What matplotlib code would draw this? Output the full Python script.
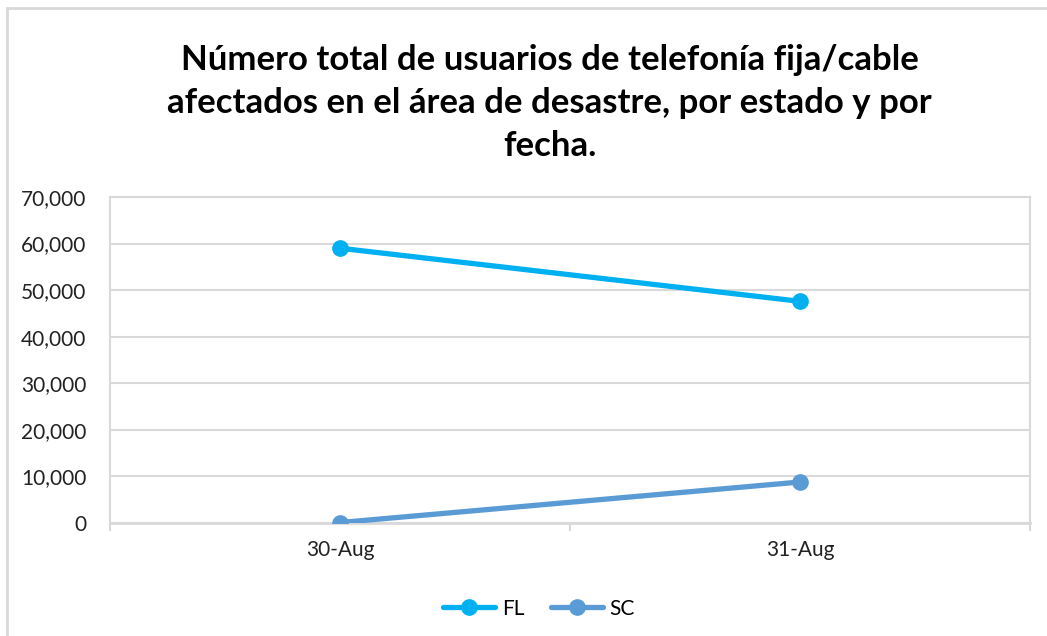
import matplotlib.pyplot as plt
import matplotlib.patches as mpatches
from matplotlib.ticker import FuncFormatter, FixedLocator

# data
dates = ["30-Aug", "31-Aug"]
fl_users = [59000, 47600]
sc_users = [100, 8800]

title = ("Número total de usuarios de telefonía fija/cable\n"
         "afectados en el área de desastre, por estado y por\n"
         "fecha.")

plt.rcParams['font.family'] = ['Lato', 'DejaVu Sans']

fig = plt.figure(figsize=(10.47, 6.36), dpi=100)
ax = fig.add_axes([110 / 1047, 113 / 636, 920 / 1047, 326 / 636])

grid_col = "#D9D9D9"
x = list(range(len(dates)))
ax.plot(x, fl_users, color="#00B0F0", lw=3.8, marker="o", ms=11, label="FL",
        solid_capstyle="round", zorder=3)
ax.plot(x, sc_users, color="#5B9BD5", lw=3.8, marker="o", ms=11, label="SC",
        solid_capstyle="round", zorder=3)

ax.set_xlim(-0.5, len(dates) - 0.5)
ax.set_ylim(0, 70000)
ax.set_yticks(range(0, 70001, 10000))
ax.yaxis.set_major_formatter(FuncFormatter(lambda v, p: f"{int(v):,}"))
ax.set_xticks(x)
ax.set_xticklabels(dates)
ax.xaxis.set_minor_locator(FixedLocator([-0.5, 0.5, 1.5]))

ax.grid(axis="y", color=grid_col, lw=1.5)
ax.set_axisbelow(True)
for s in ax.spines.values():
    s.set_color(grid_col)
    s.set_linewidth(1.5)
ax.spines["bottom"].set_linewidth(2)

ax.tick_params(axis="x", which="major", length=0, pad=12, labelsize=15, colors="#222222")
ax.tick_params(axis="x", which="minor", length=6, width=1.5, color=grid_col)
ax.tick_params(axis="y", length=0, pad=17, labelsize=15, colors="#222222")

fig.text(0.525, 0.838, title, ha="center", va="center", fontsize=25,
         fontweight="bold", linespacing=1.42)

fig.legend(loc="center", bbox_to_anchor=(0.515, 0.043), ncol=2, frameon=False,
           fontsize=15, handlelength=2.5, columnspacing=1.3, handletextpad=0.3)

# chart frame (clipped at right and bottom like the reference)
fig.patches.append(mpatches.Rectangle((7 / 1047, -0.1), 1.2, 1.1 - 8 / 636,
                                      transform=fig.transFigure, fill=False,
                                      edgecolor=grid_col, lw=2))

fig.savefig("out.png", dpi=100)
